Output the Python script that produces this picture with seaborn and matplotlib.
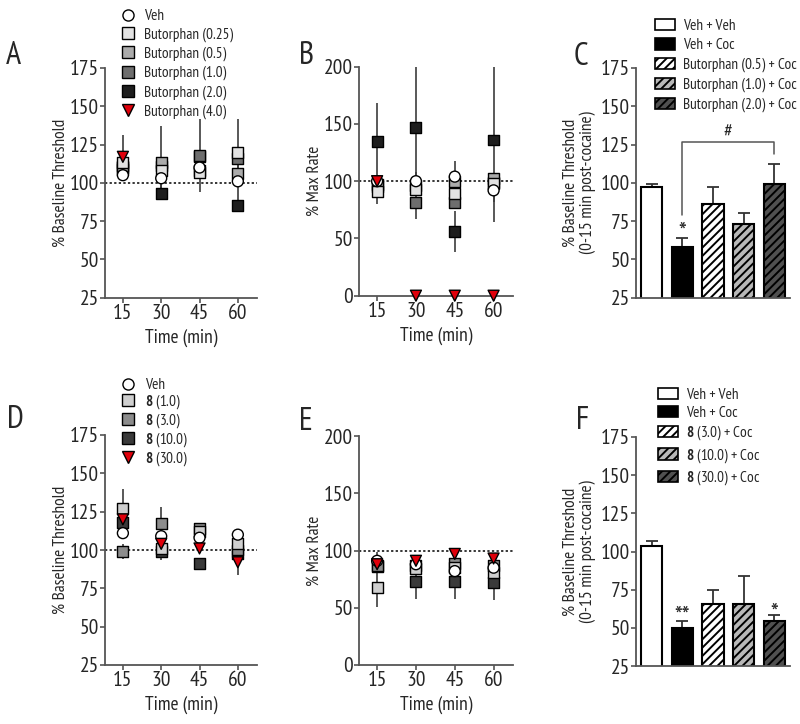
import numpy as np
import pandas as pd
import matplotlib
matplotlib.use("Agg")
import matplotlib.pyplot as plt
import seaborn as sns
from matplotlib.lines import Line2D
from matplotlib.patches import Patch

sns.set_style("ticks")
FONT = ["PT Sans Narrow", "DejaVu Sans"]
plt.rcParams["font.family"] = FONT
plt.rcParams["mathtext.fontset"] = "custom"
plt.rcParams["mathtext.rm"] = "PT Sans Narrow"
plt.rcParams["mathtext.bf"] = "PT Sans Narrow:bold"
plt.rcParams["hatch.linewidth"] = 1.4

nan = np.nan
times = [15, 30, 45, 60]

# ---- Panel A: % baseline threshold (butorphan) ----
groups_bu = ["Veh", "Butorphan (0.25)", "Butorphan (0.5)", "Butorphan (1.0)",
             "Butorphan (2.0)", "Butorphan (4.0)"]
A_veh = [105, 103, 110, 101]
A_025 = [113, 108, 107, 120]
A_05 = [111, 113, 108, 106]
A_10 = [109, 111, 118, 116]
A_20 = [110, 93, 117, 85]
A_40 = [117, nan, nan, nan]
A_veh_e = [3, 8, 4, 12]
A_025_e = [4, 4, 3, 22]
A_05_e = [4, 24, 4, 4]
A_10_e = [4, 4, 24, 4]
A_20_e = [4, 4, 4, 4]
A_40_e = [14, nan, nan, nan]

# ---- Panel B: % max rate (butorphan) ----
B_veh = [100, 100, 104, 92]
B_025 = [91, 93, 89, 98]
B_05 = [95, 96, 100, 102]
B_10 = [97, 81, 81, 99]
B_20 = [135, 147, 56, 136]
B_40 = [100, 0, 0, 0]
B_veh_e = [5, 8, 14, 10]
B_025_e = [11, 5, 5, 5]
B_05_e = [5, 5, 5, 5]
B_10_e = [5, 5, 5, 5]
B_20_e = [33, 80, 18, 72]
B_40_e = [0, 0, 0, 0]

# ---- Panel C: bars ----
C_labels = ["Veh + Veh", "Veh + Coc", "Butorphan (0.5) + Coc",
            "Butorphan (1.0) + Coc", "Butorphan (2.0) + Coc"]
C_vals = [97, 58, 86, 73, 99]
C_errs = [2.5, 6, 11.5, 7, 13.5]

# ---- Panel D: % baseline threshold (compound 8) ----
groups_8 = ["Veh", "8 (1.0)", "8 (3.0)", "8 (10.0)", "8 (30.0)"]
D_veh = [111, 109, 108, 110]
D_1 = [127, 101, 112, 104]
D_3 = [99, 117, 114, 100]
D_10 = [118, 99, 91, 98]
D_30 = [120, 104, 101, 92]
D_veh_e = [3, 3, 3, 3]
D_1_e = [13, 3, 5, 3]
D_3_e = [5, 11, 3, 3]
D_10_e = [3, 5.5, 4, 3]
D_30_e = [3, 3, 3, 8.5]

# ---- Panel E: % max rate (compound 8) ----
E_veh = [91, 88, 82, 85]
E_1 = [68, 84, 85, 81]
E_3 = [87, 87, 89, 87]
E_10 = [86, 73, 73, 72]
E_30 = [88, 91, 97, 93]
E_veh_e = [8, 4, 4, 4]
E_1_e = [17, 4, 4, 4]
E_3_e = [4, 4, 4, 4]
E_10_e = [4, 15, 15, 15]
E_30_e = [4, 4, 4, 4]

# ---- Panel F: bars ----
F_labels = ["Veh + Veh", "Veh + Coc", r"$\mathbf{8}$ (3.0) + Coc",
            r"$\mathbf{8}$ (10.0) + Coc", r"$\mathbf{8}$ (30.0) + Coc"]
F_vals = [103.5, 50, 65.5, 65.5, 54.5]
F_errs = [3.5, 4.7, 9, 18.5, 4]

# ---------------- styles ----------------
pal_bu = {"Veh": "white", "Butorphan (0.25)": "#e2e2e2", "Butorphan (0.5)": "#ababab",
          "Butorphan (1.0)": "#6e6e6e", "Butorphan (2.0)": "#1e1e1e",
          "Butorphan (4.0)": "#e0000b"}
mk_bu = {"Veh": "o", "Butorphan (0.25)": "s", "Butorphan (0.5)": "s",
         "Butorphan (1.0)": "s", "Butorphan (2.0)": "s", "Butorphan (4.0)": "v"}
draw_bu = ["Butorphan (2.0)", "Butorphan (1.0)", "Butorphan (0.5)",
           "Butorphan (0.25)", "Veh", "Butorphan (4.0)"]
pal_8 = {"Veh": "white", "8 (1.0)": "#cfcfcf", "8 (3.0)": "#8c8c8c",
         "8 (10.0)": "#3a3a3a", "8 (30.0)": "#e0000b"}
mk_8 = {"Veh": "o", "8 (1.0)": "s", "8 (3.0)": "s", "8 (10.0)": "s", "8 (30.0)": "v"}
draw_8 = ["8 (10.0)", "8 (3.0)", "8 (1.0)", "Veh", "8 (30.0)"]
legend_8 = ["Veh", r"$\mathbf{8}$ (1.0)", r"$\mathbf{8}$ (3.0)",
            r"$\mathbf{8}$ (10.0)", r"$\mathbf{8}$ (30.0)"]

SPINE = "#555555"
W, H = 800, 724


def fx(px):
    return px / W


def fy(py):
    return 1 - py / H


def make_axes(fig, left, right, top, bottom):
    return fig.add_axes([fx(left), fy(bottom), fx(right) - fx(left), (bottom - top) / H])


def style_axes(ax):
    sns.despine(ax=ax)
    for s in ("left", "bottom"):
        ax.spines[s].set_color(SPINE)
        ax.spines[s].set_linewidth(1.3)
    ax.tick_params(axis="both", labelsize=15.5, length=3.5, width=1.2, color=SPINE,
                   direction="out", pad=1)


def long_df(groups, order, means, errs):
    rows = []
    for g in order:
        i = groups.index(g)
        for t, m, e in zip(times, means[i], errs[i]):
            rows.append({"time": t, "value": m, "err": e, "group": g})
    return pd.DataFrame(rows)


def time_panel(ax, df, groups, pal, mk, ylim, yticks, ylabel):
    ax.axhline(100, color="black", ls=(0, (1.5, 1.5)), lw=1.1, zorder=1)
    d = df.dropna(subset=["value"])
    ax.errorbar(d["time"], d["value"], yerr=d["err"], fmt="none",
                ecolor="#3c3c3c", elinewidth=1.2, capsize=0, zorder=2)
    sns.scatterplot(data=d, x="time", y="value", hue="group", style="group",
                    hue_order=groups, style_order=groups, palette=pal, markers=mk,
                    s=62, edgecolor="black", linewidth=1.0, legend=False,
                    ax=ax, zorder=3, clip_on=False)
    ax.set_xlim(8, 67.5)
    ax.set_xticks(times)
    ax.set_ylim(*ylim)
    ax.set_yticks(yticks)
    ax.set_xlabel("Time (min)", fontsize=14, labelpad=4)
    ax.set_ylabel(ylabel, fontsize=12.5, labelpad=0.5)
    style_axes(ax)


def bar_panel(ax, labels, vals, errs):
    dfb = pd.DataFrame({"grp": labels, "val": vals})
    faces = ["white", "black", "white", "#b8b8b8", "#505050"]
    hatches = [None, None, "////", "////", "////"]
    sns.barplot(data=dfb, x="grp", y="val", order=labels, ax=ax, width=0.69,
                errorbar=None, color="white", saturation=1, zorder=2)
    for p, fc, h in zip(ax.patches, faces, hatches):
        p.set_facecolor(fc)
        p.set_edgecolor("black")
        p.set_linewidth(1.5)
        if h:
            p.set_hatch(h)
    ax.errorbar(range(len(vals)), vals, yerr=[[0] * len(errs), errs], fmt="none",
                ecolor="#333333", elinewidth=1.3, capsize=4, capthick=1.3, zorder=1)
    ax.set_xlim(-0.52, 4.52)
    ax.set_ylim(25, 175)
    ax.set_yticks([25, 50, 75, 100, 125, 150, 175])
    ax.set_xticks([])
    ax.set_xlabel("")
    ax.set_ylabel("% Baseline Threshold\n(0-15 min post-cocaine)", fontsize=12.5,
                  labelpad=3, linespacing=1.05)
    style_axes(ax)
    ax.tick_params(axis="x", length=0)
    return [Patch(facecolor=fc, edgecolor="black", hatch=h, linewidth=1.2)
            for fc, h in zip(faces, hatches)]


fig = plt.figure(figsize=(8, 7.24), dpi=100)

# Panel A
axA = make_axes(fig, 105, 257, 68, 297.7)
dfA = long_df(groups_bu, draw_bu, [A_veh, A_025, A_05, A_10, A_20, A_40],
              [A_veh_e, A_025_e, A_05_e, A_10_e, A_20_e, A_40_e])
time_panel(axA, dfA, groups_bu, pal_bu, mk_bu, (25, 175),
           [25, 50, 75, 100, 125, 150, 175], "% Baseline Threshold")

# Panel B
axB = make_axes(fig, 359, 513, 66.7, 295.7)
dfB = long_df(groups_bu, draw_bu, [B_veh, B_025, B_05, B_10, B_20, B_40],
              [B_veh_e, B_025_e, B_05_e, B_10_e, B_20_e, B_40_e])
time_panel(axB, dfB, groups_bu, pal_bu, mk_bu, (0, 200), [0, 50, 100, 150, 200],
           "% Max Rate")

# Panel C
axC = make_axes(fig, 636, 790, 68, 297.7)
handles_C = bar_panel(axC, C_labels, C_vals, C_errs)
axC.plot([1, 1, 4, 4], [79, 127, 127, 119], color="#555555", lw=1.1, zorder=3)
axC.text(2.5, 132.5, "#", ha="center", va="center", fontsize=14)
axC.text(1, 63, "*", ha="center", va="baseline", fontsize=19)

# Panel D
axD = make_axes(fig, 105, 257, 435, 665)
dfD = long_df(groups_8, draw_8, [D_veh, D_1, D_3, D_10, D_30],
              [D_veh_e, D_1_e, D_3_e, D_10_e, D_30_e])
time_panel(axD, dfD, groups_8, pal_8, mk_8, (25, 175),
           [25, 50, 75, 100, 125, 150, 175], "% Baseline Threshold")

# Panel E
axE = make_axes(fig, 359, 513, 436, 665)
dfE = long_df(groups_8, draw_8, [E_veh, E_1, E_3, E_10, E_30],
              [E_veh_e, E_1_e, E_3_e, E_10_e, E_30_e])
time_panel(axE, dfE, groups_8, pal_8, mk_8, (0, 200), [0, 50, 100, 150, 200],
           "% Max Rate")

# Panel F
axF = make_axes(fig, 636, 790, 437, 666)
handles_F = bar_panel(axF, F_labels, F_vals, F_errs)
axF.text(1, 52.5, "**", ha="center", va="baseline", fontsize=19)
axF.text(4, 54.5, "*", ha="center", va="baseline", fontsize=19)


def marker_handles(groups, pal, mk):
    return [Line2D([], [], ls="none", marker=mk[g], markersize=8,
                   markerfacecolor=pal[g], markeredgecolor="black",
                   markeredgewidth=1.0) for g in groups]


leg_kw = dict(loc="upper left", bbox_transform=fig.transFigure, frameon=False,
              fontsize=11, borderpad=0, borderaxespad=0)
axA.legend(marker_handles(groups_bu, pal_bu, mk_bu), groups_bu,
           bbox_to_anchor=(fx(121), fy(9)), handlelength=0.9, handletextpad=0.6,
           labelspacing=0.3, **leg_kw)
axD.legend(marker_handles(groups_8, pal_8, mk_8), legend_8,
           bbox_to_anchor=(fx(121), fy(378)), handlelength=0.9, handletextpad=0.7,
           labelspacing=0.0, **leg_kw)
axC.legend(handles_C, C_labels, bbox_to_anchor=(fx(655), fy(19)),
           handlelength=1.3, handleheight=0.75, handletextpad=0.55,
           labelspacing=0.35, **leg_kw)
axF.legend(handles_F, F_labels, bbox_to_anchor=(fx(658), fy(388)),
           handlelength=1.3, handleheight=0.75, handletextpad=0.55,
           labelspacing=0.24, **leg_kw)

for letter, px, py in [("A", 6, 56), ("B", 299, 56), ("C", 574, 57),
                       ("D", 7, 420), ("E", 299, 422), ("F", 576, 421)]:
    fig.text(fx(px), fy(py), letter, fontsize=23, ha="left", va="center")

fig.savefig("out.png", dpi=100)
